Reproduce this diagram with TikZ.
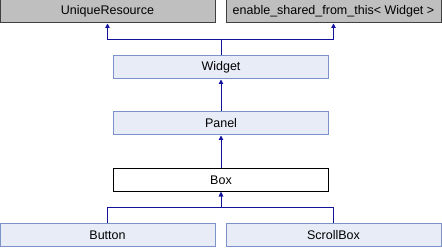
\documentclass[tikz,border=0pt]{standalone}
\usepackage{fontspec}
\setmainfont{Liberation Sans}
\usetikzlibrary{arrows.meta}
\definecolor{arrowblue}{HTML}{12129A}
\definecolor{grayfill}{HTML}{BFBFBF}
\definecolor{grayline}{HTML}{404040}
\definecolor{bluefill}{HTML}{E8ECF6}
\definecolor{blueline}{HTML}{7B93C8}
\tikzset{
  cls/.style={rectangle, minimum width=215pt, minimum height=23pt, inner sep=0pt, line width=1pt, font=\fontsize{12.5}{14}\selectfont},
  basecls/.style={cls, draw=grayline, fill=grayfill},
  bluecls/.style={cls, draw=blueline, fill=bluefill},
  maincls/.style={cls, draw=black, fill=white},
  inh/.style={draw=arrowblue, line width=1pt, -{Triangle[length=4.5pt,width=4.5pt]}}
}
\begin{document}
\begin{tikzpicture}[x=1pt,y=-1pt]
\useasboundingbox (0,0) rectangle (442,248);
\node[basecls] (ur) at (107.5,11.5) {UniqueResource};
\node[basecls] (esft) at (333.5,11.5) {enable\_shared\_from\_this< Widget >};
\node[bluecls] (widget) at (221,67.5) {Widget};
\node[bluecls] (panel) at (221,123.5) {Panel};
\node[maincls] (box) at (221,180) {Box};
\node[bluecls] (button) at (107.5,235.5) {Button};
\node[bluecls] (scroll) at (333.5,235.5) {ScrollBox};
\coordinate (j1) at (221,40);
\coordinate (j2) at (221,208);
\draw[inh] (widget.north) -- (j1) -| (ur.south);
\draw[inh] (widget.north) -- (j1) -| (esft.south);
\draw[inh] (panel.north) -- (widget.south);
\draw[inh] (box.north) -- (panel.south);
\draw[inh] (button.north) |- (j2) -| (box.south);
\draw[inh] (scroll.north) |- (j2) -| (box.south);
\end{tikzpicture}
\end{document}
